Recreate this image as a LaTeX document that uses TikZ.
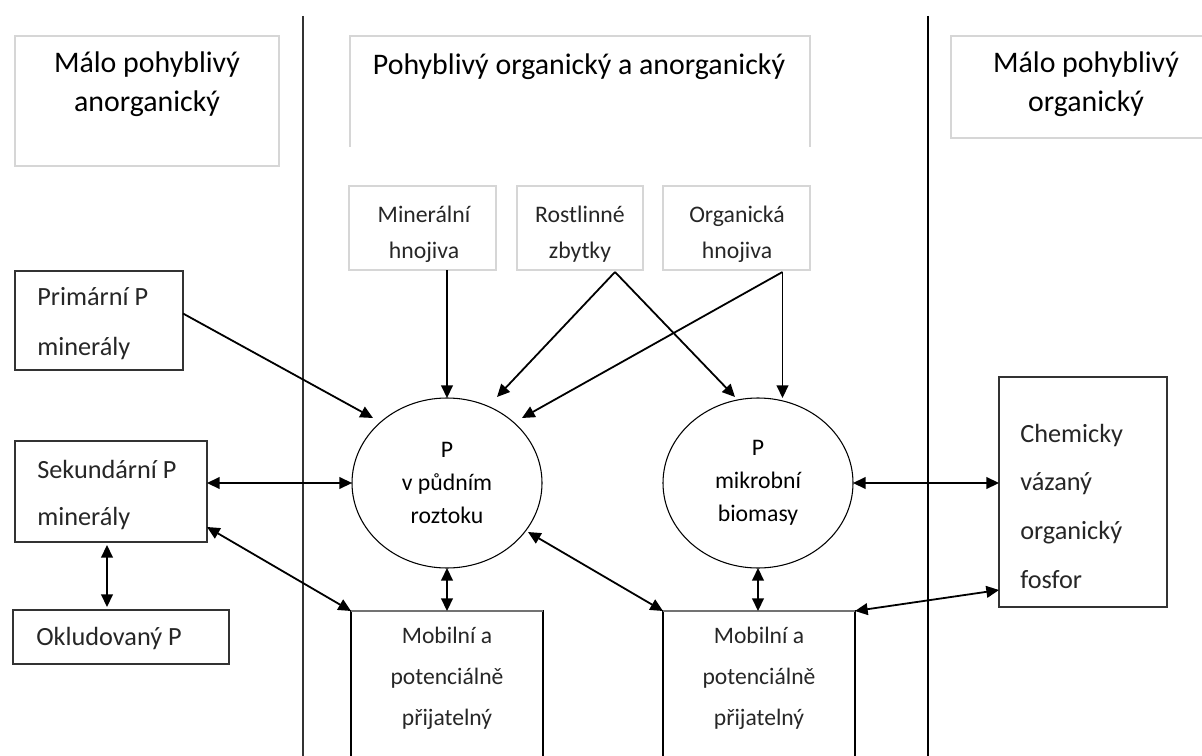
\documentclass[tikz,border=0pt]{standalone}
\usepackage{fontspec}
\setmainfont{Carlito}
\usetikzlibrary{arrows.meta,shapes.geometric,calc}
\begin{document}
\begin{tikzpicture}[x=0.75pt,y=-0.75pt,
  lbox/.style={draw=black!16, line width=1.1pt, rectangle, inner sep=0pt, outer sep=0pt, anchor=north west},
  dbox/.style={draw=black!80, line width=1.4pt, rectangle, inner sep=0pt, outer sep=0pt, anchor=north west},
  ell/.style={draw=black, line width=0.8pt, ellipse, inner sep=0pt, outer sep=0pt, minimum width=142.5pt, minimum height=127.5pt, align=center, font=\fontsize{17.8}{24.75}\selectfont},
  hdrtext/.style={inner sep=0pt, align=center, anchor=base, font=\fontsize{22.4}{29.25}\selectfont},
  srctext/.style={inner sep=0pt, align=center, anchor=base, font=\fontsize{17.8}{27}\selectfont, text=black!85},
  lefttext/.style={inner sep=0pt, align=left, anchor=base west, font=\fontsize{19.7}{#1}\selectfont, text=black!85},
  mobtext/.style={inner sep=0pt, align=center, anchor=base, font=\fontsize{17.7}{30.5}\selectfont, text=black!85},
  tip/.tip={Triangle[length=9.5pt,width=8.8pt]},
  arr/.style={-tip, line width=1.35pt},
  bi/.style={tip-tip, line width=1.35pt},
  vline/.style={line width=1.3pt, draw=black!80}
]
\useasboundingbox (0,0) rectangle (1202,756);

% column separators
\draw[vline] (303,16) -- (303,760);
\draw[vline,draw=black] (928,16) -- (928,760);

% header boxes
\node[lbox, minimum width=198pt, minimum height=97.5pt] (hdrL) at (15,36) {};
\draw[draw=black!16, line width=1.1pt] (350,147) -- (350,36) -- (810,36) -- (810,147);
\node[lbox, minimum width=194.25pt, minimum height=76.5pt] (hdrR) at (951,36) {};
\node[hdrtext] (hdrLt) at (147,112) {Málo pohyblivý\\anorganický};
\node[hdrtext] (hdrMt) at (579,75) {Pohyblivý organický a anorganický};
\node[hdrtext] (hdrRt) at (1086,112) {Málo pohyblivý\\organický};

% source boxes
\node[lbox, minimum width=110.25pt, minimum height=63pt] (min) at (349,186) {};
\node[lbox, minimum width=94.5pt, minimum height=63pt] (rost) at (517,186) {};
\node[lbox, minimum width=110.25pt, minimum height=63pt] (org) at (663,186) {};
\node[srctext] (mint) at (424,258) {Minerální\\hnojiva};
\node[srctext] (rostt) at (580,258) {Rostlinné\\zbytky};
\node[srctext] (orgt) at (737,258) {Organická\\hnojiva};

% left boxes
\node[dbox, minimum width=126pt, minimum height=74.25pt] (prim) at (15,271) {};
\node[dbox, minimum width=144pt, minimum height=75.75pt] (sek) at (15,441) {};
\node[dbox, minimum width=162pt, minimum height=40.5pt] (okl) at (13,610) {};
\node[lefttext=37.5] (primt) at (37,355) {Primární P\\minerály};
\node[lefttext=35.25] (sekt) at (37,525) {Sekundární P\\minerály};
\node[lefttext=35] (oklt) at (36,645) {Okludovaný P};

% ellipses
\node[ell] (e1) at (447,483) {P\\v půdním\\roztoku};
\node[ell] (e2) at (758,483) {P\\mikrobní\\biomasy};

% bottom boxes
\node[dbox, draw=black, line width=1.1pt, minimum width=144pt, minimum height=141.75pt] (mob1) at (351,611) {};
\node[dbox, draw=black, line width=1.1pt, minimum width=144pt, minimum height=141.75pt] (mob2) at (663,611) {};
\draw[draw=black!55, line width=1.8pt] (mob1.north west) -- (mob1.north east);
\draw[draw=black!55, line width=1.8pt] (mob2.north west) -- (mob2.north east);
\node[mobtext] (mob1t) at (447,725) {Mobilní a\\potenciálně\\přijatelný};
\node[mobtext] (mob2t) at (759,725) {Mobilní a\\potenciálně\\přijatelný};

% chemicky box
\node[dbox, minimum width=126pt, minimum height=172.5pt] (chem) at (999,377) {};
\node[lefttext=36.5] (chemt) at (1020,588) {Chemicky\\vázaný\\organický\\fosfor};

% connectors
\draw[arr] (e1.north |- min.south) -- (e1.north);
\coordinate (rapex) at ($(rost.south)+(35,2)$);
\coordinate (oapex) at ($(org.south)+(46,2)$);
\draw[arr] (rapex) -- ($(e1.center)+(50,-86)$);
\draw[arr] (rapex) -- ($(e2.center)+(-23,-86)$);
\draw[arr] (oapex) -- ($(e1.center)+(75,-65)$);
\draw[arr] (oapex) -- (oapex |- e2.north);
\draw[arr] ($(prim.east)+(0,-7)$) -- ($(e1.center)+(-74,-65)$);
\draw[bi] (sek.east |- e1.west) -- (e1.west);
\draw[bi] ($(sek.south east)+(0,-15)$) -- (mob1.north west);
\draw[bi] ($(e1.center)+(81,49)$) -- (mob2.north west);
\draw[bi] ($(sek.south)+(-4,3)$) -- ($(okl.north -| sek.south)+(-4,-3)$);
\draw[bi] (e1.south) -- (e1.south |- mob1.north);
\draw[bi] (e2.south) -- (e2.south |- mob2.north);
\draw[bi] (e2.east) -- (e2.east -| chem.west);
\draw[bi] ($(chem.south west)+(0,-17)$) -- (mob2.north east);
\end{tikzpicture}
\end{document}
